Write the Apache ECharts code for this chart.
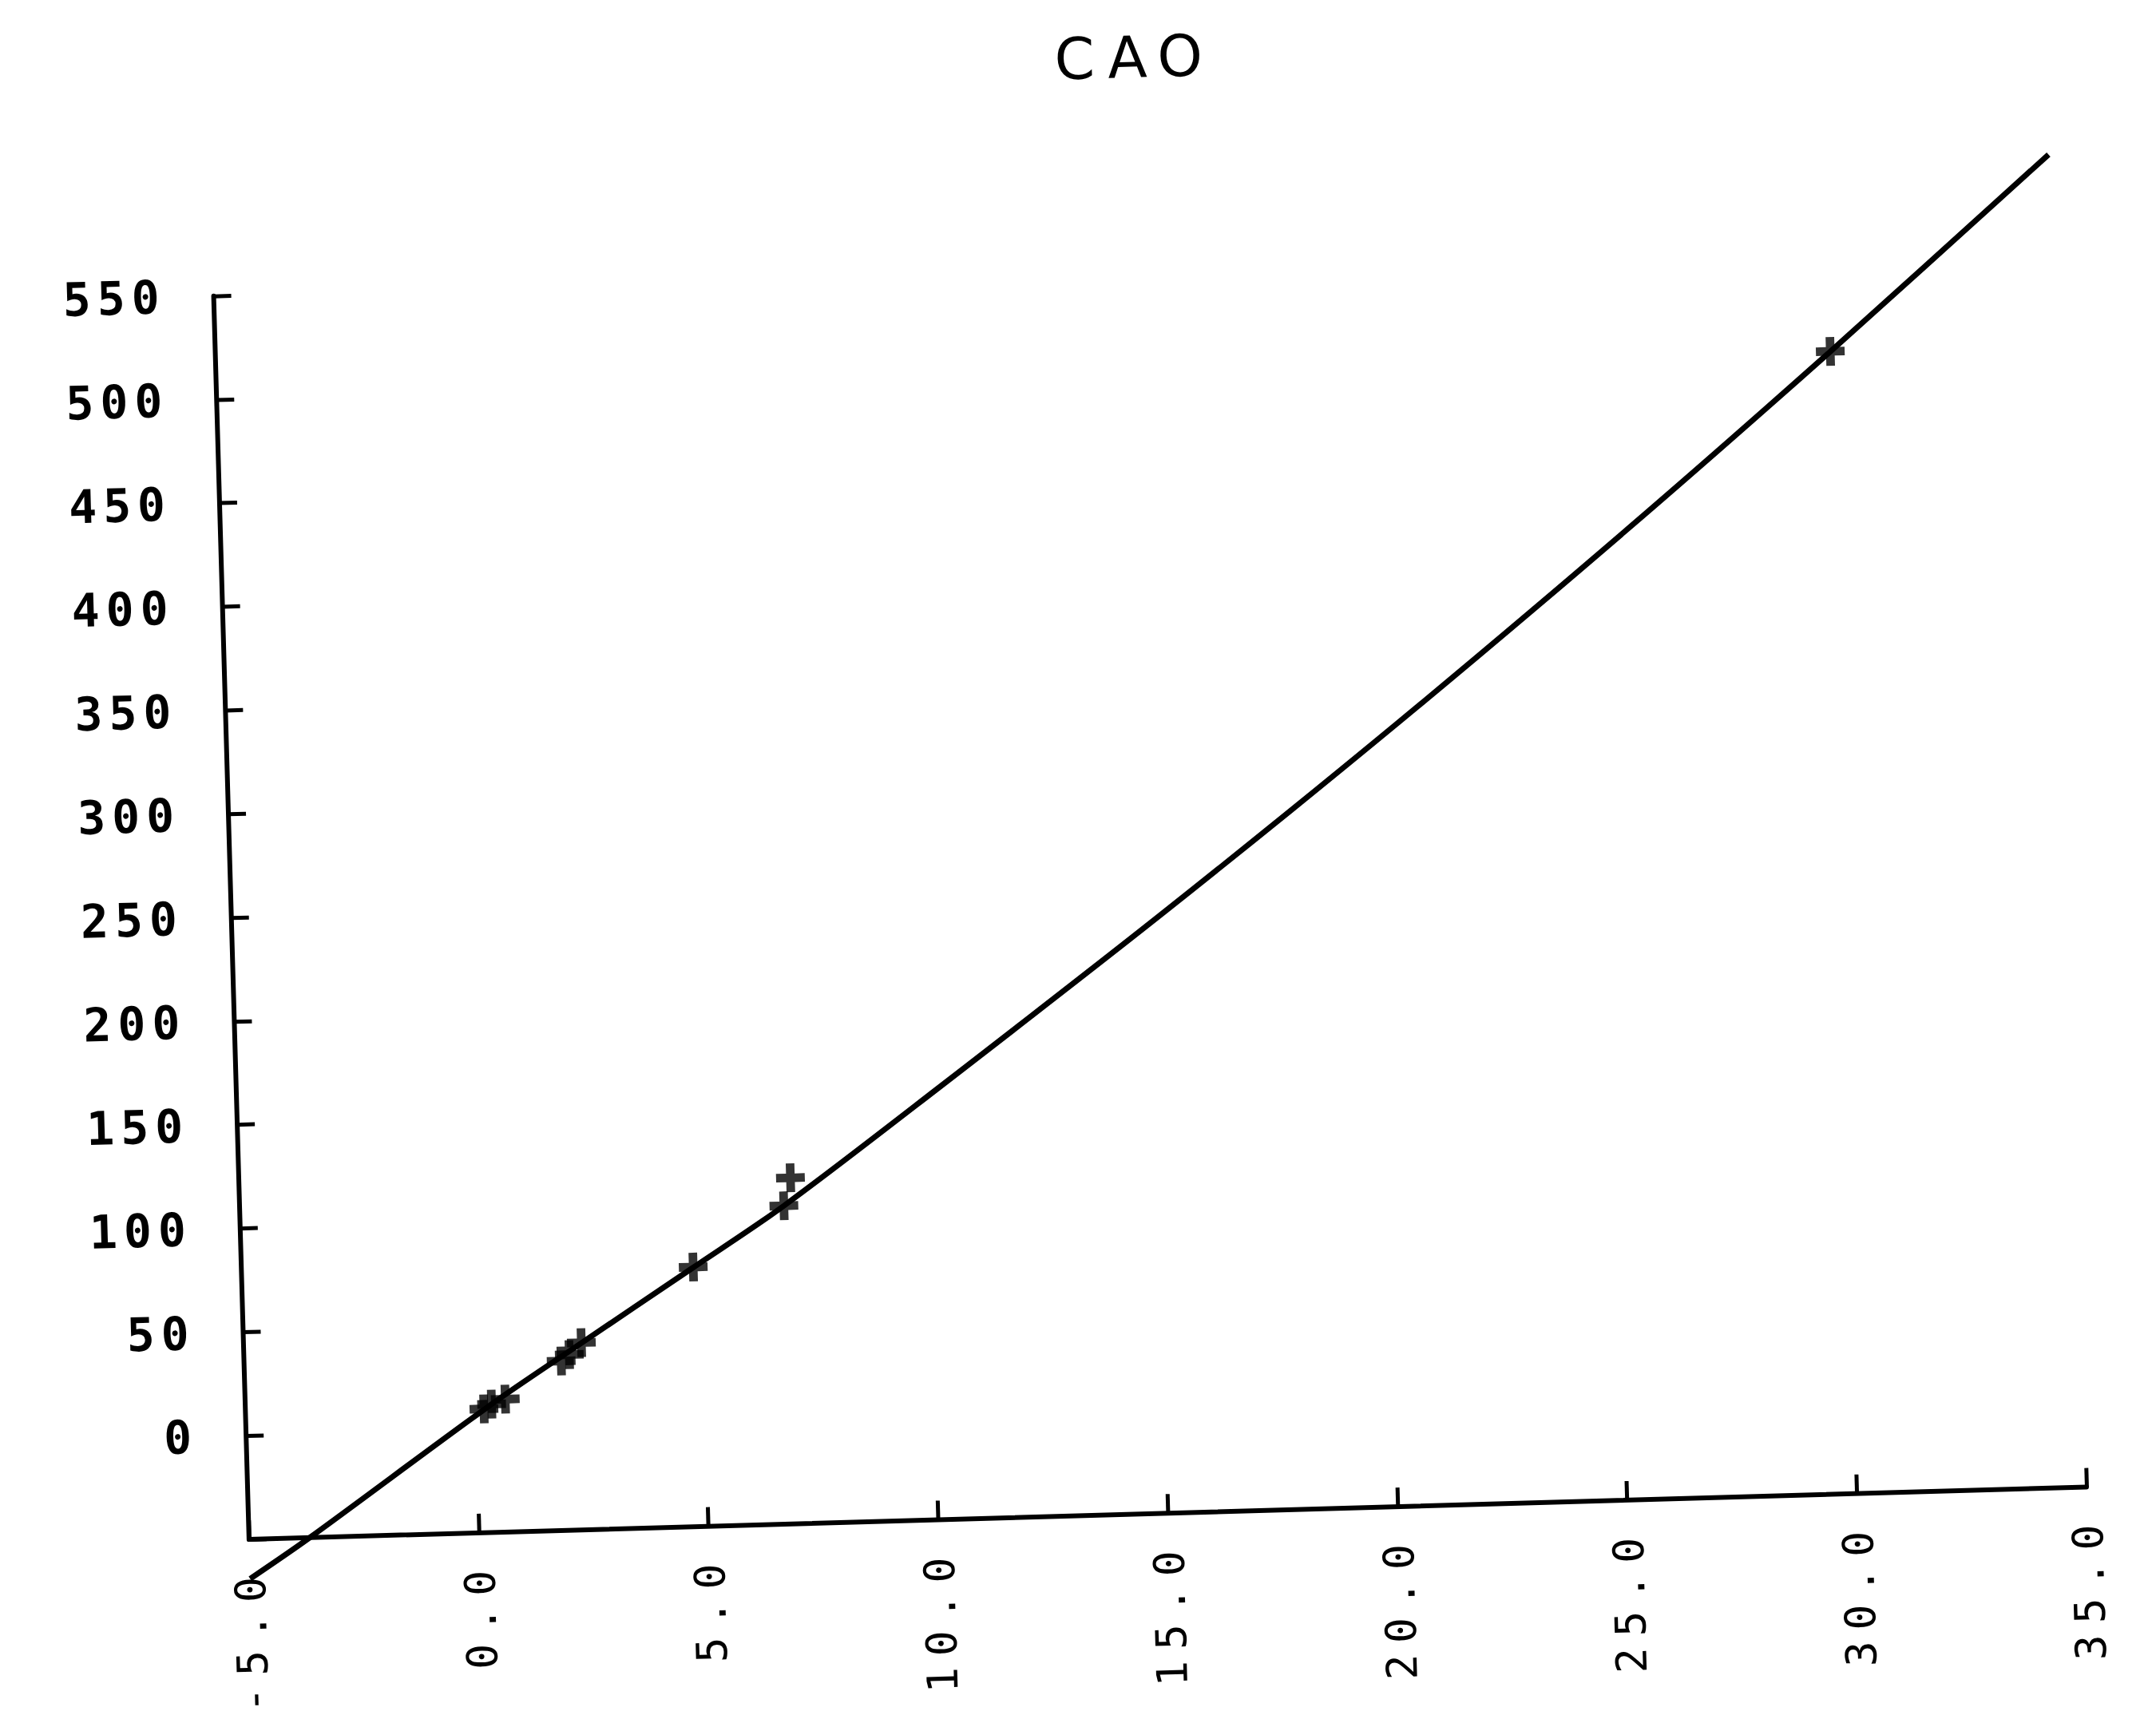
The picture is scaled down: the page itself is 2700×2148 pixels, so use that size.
<!DOCTYPE html>
<html>
<head>
<meta charset="utf-8">
<title>CAO</title>
<script src="https://cdn.jsdelivr.net/npm/echarts@6/dist/echarts.min.js"></script>
<style>
  html, body { margin: 0; padding: 0; background: #ffffff; }
  #chart {
    position: absolute; left: 0; top: 0;
    width: 2700px; height: 2148px;
    background: #ffffff;
    /* the plotted sheet sits slightly turned on the page */
    transform-origin: 312px 1932px;
    transform: rotate(-1.63deg);
  }
</style>
</head>
<body>
<div id="chart"></div>
<script>
// Chart title
const titleText = 'CAO';

// Axis ranges and tick steps
const xMin = -5, xMax = 35, xStep = 5;
const yMin = -50, yMax = 550, yStep = 50;

// Measured standards (concentration, response)
const sampleX = [0.19, 0.36, 0.66, 1.90, 2.08, 2.35, 4.83, 6.84, 7.00, 30.13];
const sampleY = [9.7, 11.9, 14.1, 31.7, 34.7, 40.3, 75.2, 103.5, 116.9, 501.1];

// Calibration curve, read along its length
const curveX = [-5.0, -3.68, 0.3, 2.2, 4.83, 6.84, 10.2, 15.3, 20.5, 25.6, 30.13, 35.0];
const curveY = [-69, -50, 11, 38, 75, 103.5, 157, 240, 328, 418, 501, 593];

const ink = '#000000';
const plusSymbol = 'path://M7,0H13V7H20V13H13V20H7V13H0V7H7Z';

// Plotter-style lettering: every character gets the same wide cell
const cells = s => String(s).split('').map(ch => '{c|' + ch + '}').join('');

const chart = echarts.init(document.getElementById('chart'), null, { renderer: 'svg' });

chart.setOption({
  backgroundColor: '#ffffff',
  animation: false,
  grid: { left: 312, top: 370, width: 2302, height: 1562, containLabel: false },
  graphic: [{
    type: 'text',
    x: 1464, y: 104,
    style: {
      text: cells(titleText),
      fill: ink,
      align: 'center',
      verticalAlign: 'middle',
      rich: {
        c: { width: 66, align: 'center', fontSize: 72, fontFamily: 'DejaVu Sans', fill: ink }
      }
    }
  }],
  xAxis: {
    type: 'value',
    min: xMin, max: xMax, interval: xStep,
    splitLine: { show: false },
    axisLine: { show: true, onZero: false, lineStyle: { color: ink, width: 6 } },
    axisTick: { show: true, inside: true, length: 24, lineStyle: { color: ink, width: 5 } },
    axisLabel: {
      rotate: 90,
      margin: 40,
      color: ink,
      formatter: v => cells(v.toFixed(1)),
      rich: {
        c: { width: 46, align: 'center', fontSize: 53, fontFamily: 'DejaVu Sans Mono', color: ink }
      }
    }
  },
  yAxis: {
    type: 'value',
    min: yMin, max: yMax, interval: yStep,
    splitLine: { show: false },
    axisLine: { show: true, onZero: false, lineStyle: { color: ink, width: 6 } },
    axisTick: { show: true, inside: true, length: 22, lineStyle: { color: ink, width: 5 } },
    axisLabel: {
      margin: 64,
      color: ink,
      formatter: v => (v < 0 ? '' : cells(v)),
      rich: {
        c: { width: 43, align: 'center', fontSize: 58, fontWeight: 'bold', fontFamily: 'DejaVu Sans Mono', color: ink }
      }
    }
  },
  series: [
    {
      type: 'line',
      data: curveX.map((x, i) => [x, curveY[i]]),
      smooth: 0.3,
      showSymbol: false,
      clip: false,
      lineStyle: { color: ink, width: 7 },
      z: 2
    },
    {
      type: 'scatter',
      data: sampleX.map((x, i) => [x, sampleY[i]]),
      symbol: plusSymbol,
      symbolSize: 36,
      itemStyle: { color: ink },
      clip: false,
      z: 3
    }
  ]
});
</script>
</body>
</html>
